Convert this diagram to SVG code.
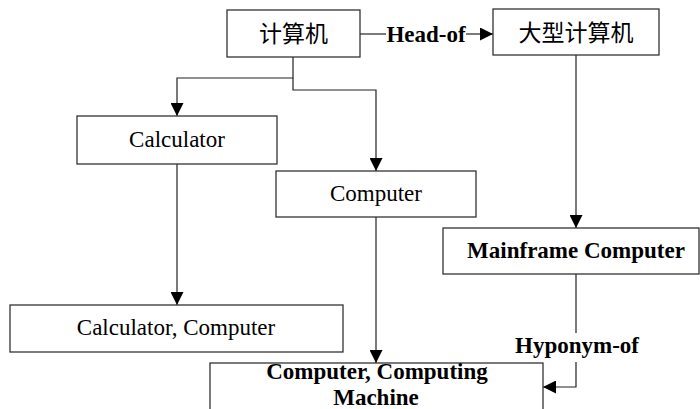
<svg xmlns="http://www.w3.org/2000/svg" width="700" height="409" viewBox="0 0 700 409">
  <defs>
    <marker id="arrow" viewBox="0 0 13 13" refX="13" refY="6.5" markerWidth="13" markerHeight="13" markerUnits="userSpaceOnUse" orient="auto">
      <path d="M0,0 L13,6.5 L0,13 Z" fill="#000"/>
    </marker>
    <style>
      .box { fill: #fff; stroke: #333; stroke-width: 1.3; }
      .edge { fill: none; stroke: #222; stroke-width: 1.2; }
      .t { font-family: "Liberation Serif", "Times New Roman", serif; font-size: 23px; fill: #000; text-anchor: middle; }
      .b { font-weight: bold; }
      .cjk { font-family: "Noto Sans CJK SC", sans-serif; font-size: 23px; fill: #000; text-anchor: middle; }
    </style>
  </defs>
  <rect width="700" height="409" fill="#fff"/>

  <!-- connectors -->
  <g id="connectors">
    <line class="edge" x1="360" y1="34" x2="386" y2="34"/>
    <line class="edge" x1="466" y1="34" x2="493" y2="34" marker-end="url(#arrow)"/>
    <polyline class="edge" points="293,57 293,78 177,78 177,116" marker-end="url(#arrow)"/>
    <polyline class="edge" points="293,78 293,90 376,90 376,171" marker-end="url(#arrow)"/>
    <line class="edge" x1="177" y1="164" x2="177" y2="305" marker-end="url(#arrow)"/>
    <line class="edge" x1="376" y1="217" x2="376" y2="363" marker-end="url(#arrow)"/>
    <line class="edge" x1="576" y1="55" x2="576" y2="228" marker-end="url(#arrow)"/>
    <line class="edge" x1="576" y1="274" x2="576" y2="333"/>
    <polyline class="edge" points="576,362 576,387 543,387" marker-end="url(#arrow)"/>
    <text class="t b" x="426" y="42">Head-of</text>
    <text class="t b" x="577" y="353">Hyponym-of</text>
  </g>

  <g id="node-jisuanji">
    <rect class="box" x="227" y="10" width="133" height="47"/>
    <text class="cjk" x="293.5" y="42">计算机</text>
  </g>

  <g id="node-daxing">
    <rect class="box" x="493" y="9" width="166" height="46"/>
    <text class="cjk" x="576" y="41">大型计算机</text>
  </g>

  <g id="node-calculator">
    <rect class="box" x="77" y="116" width="200" height="48"/>
    <text class="t" x="177" y="147">Calculator</text>
  </g>

  <g id="node-computer">
    <rect class="box" x="276" y="171" width="200" height="46"/>
    <text class="t" x="376" y="201">Computer</text>
  </g>

  <g id="node-mainframe">
    <rect class="box" x="443" y="228" width="256" height="46"/>
    <text class="t b" x="576" y="258">Mainframe Computer</text>
  </g>

  <g id="node-calc-comp">
    <rect class="box" x="10" y="305" width="333" height="47"/>
    <text class="t" x="176" y="335">Calculator, Computer</text>
  </g>

  <g id="node-computing-machine">
    <rect class="box" x="210" y="363" width="333" height="60"/>
    <text class="t b" x="377" y="379">Computer, Computing</text>
    <text class="t b" x="376" y="405">Machine</text>
  </g>
</svg>
